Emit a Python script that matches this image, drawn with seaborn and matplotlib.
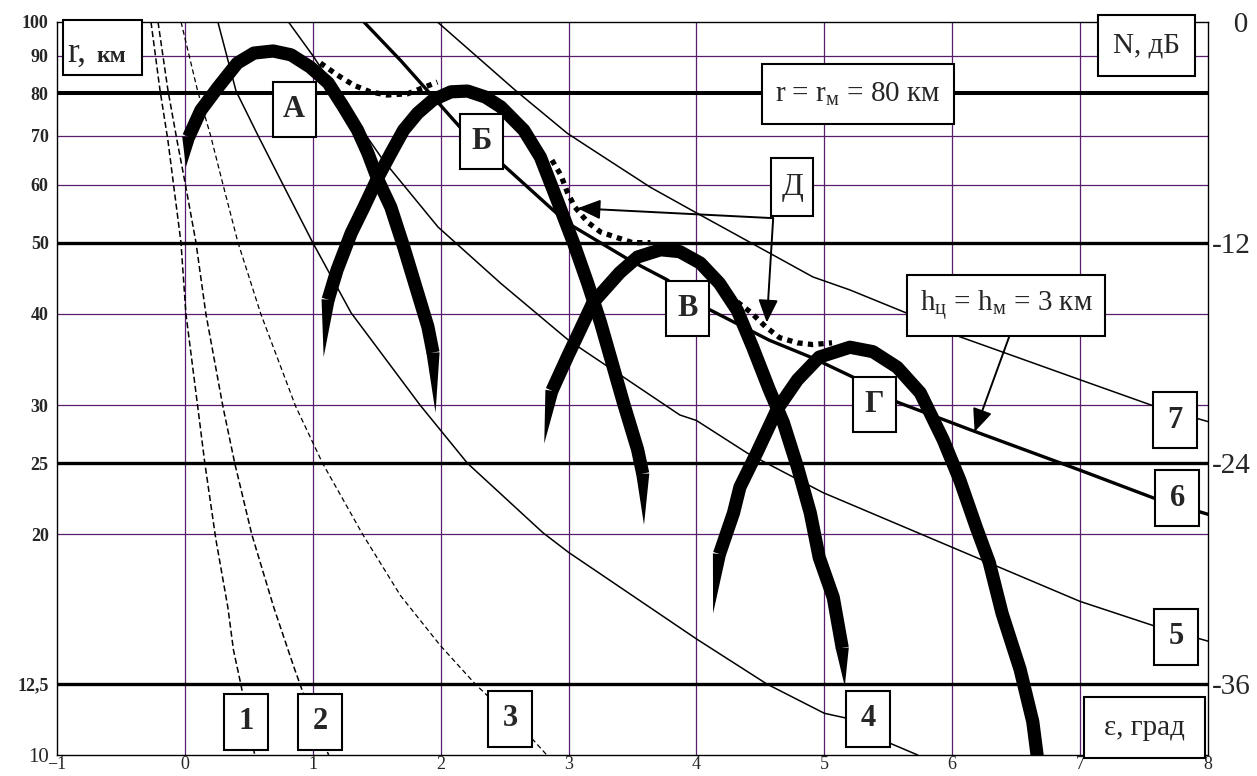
import numpy as np
import matplotlib
matplotlib.use("Agg")
import matplotlib.pyplot as plt
import seaborn as sns
from matplotlib.patches import Rectangle
from matplotlib.transforms import IdentityTransform

# ---------------- data (ε in degrees, r in km) ----------------
c1_eps = [-0.265, -0.195, -0.133, -0.086, -0.031, 0.008, 0.10, 0.156, 0.242, 0.336, 0.38, 0.437, 0.546]
c1_r = [100, 80.8, 69.0, 59.5, 50.1, 40.0, 29.9, 25.0, 19.7, 15.9, 13.9, 12.5, 10.0]

c2_eps = [-0.21, -0.133, -0.062, 0.008, 0.086, 0.164, 0.297, 0.39, 0.523, 0.695, 0.851, 0.921, 1.124]
c2_r = [100, 80.8, 69.0, 59.5, 50.1, 40.0, 29.9, 25.0, 20.0, 15.9, 13.2, 12.2, 10.0]

c3_eps = [-0.03, 0.10, 0.20, 0.297, 0.414, 0.593, 0.866, 1.077, 1.39, 1.686, 1.998, 2.27, 2.72, 2.83]
c3_r = [100, 80.5, 70.1, 60.1, 50.1, 40.0, 29.9, 25.0, 20.0, 16.5, 14.1, 12.5, 10.5, 10.0]

c4_eps = [0.258, 0.40, 0.57, 0.765, 1.0, 1.30, 1.84, 2.21, 2.80, 3.0, 4.0, 4.55, 5.0, 5.2, 5.5, 5.73]
c4_r = [100, 80.5, 70.1, 60.1, 50.0, 40.1, 30.0, 25.0, 20.1, 18.9, 14.4, 12.5, 11.4, 11.2, 10.4, 10.0]

c5_eps = [0.81, 1.0, 1.35, 1.55, 1.98, 2.47, 3.0, 3.87, 4.0, 4.40, 4.99, 6.0, 7.0, 7.58, 8.0]
c5_r = [100, 90.0, 72.8, 64.8, 52.5, 44.0, 36.8, 29.1, 28.6, 25.8, 22.8, 19.2, 16.2, 15.0, 14.3]

c6_eps = [1.40, 1.69, 2.15, 2.49, 2.99, 3.48, 3.77, 4.08, 4.57, 4.91, 5.22, 5.57, 6.16, 6.99, 7.58, 8.0]
c6_r = [100, 88.5, 71.9, 63.8, 53.2, 47.3, 44.5, 40.7, 36.8, 34.8, 32.8, 30.3, 27.7, 24.5, 22.4, 21.3]

c7_eps = [1.975, 2.58, 2.99, 3.19, 3.64, 4.0, 4.29, 4.91, 5.2, 5.64, 6.06, 7.0, 7.56, 8.0]
c7_r = [100, 80.8, 70.5, 66.9, 59.5, 54.9, 51.5, 44.9, 43.1, 40.1, 37.2, 32.5, 30.0, 28.5]

# antenna lobes А, Б, В, Г (first / last points are the tapered tips)
lobeA_eps = [0.008, 0.03, 0.125, 0.26, 0.41, 0.54, 0.69, 0.83, 0.98, 1.12, 1.24, 1.35, 1.43, 1.51, 1.61, 1.71, 1.82, 1.90, 1.94, 1.96]
lobeA_r = [63.4, 69.7, 75.8, 81.5, 87.9, 90.7, 91.3, 90.2, 86.8, 82.6, 76.6, 71.2, 66.3, 60.9, 55.9, 49.4, 42.7, 38.4, 35.4, 29.3]

lobeB_eps = [1.085, 1.12, 1.19, 1.30, 1.40, 1.51, 1.61, 1.71, 1.82, 1.94, 2.08, 2.21, 2.35, 2.47, 2.65, 2.78, 2.91, 3.04, 3.15, 3.25, 3.35, 3.43, 3.54, 3.58, 3.59]
lobeB_r = [34.9, 41.8, 45.9, 51.5, 55.9, 61.4, 66.2, 71.2, 75.1, 78.3, 80.3, 80.5, 79.0, 76.6, 71.2, 65.4, 57.2, 49.9, 44.0, 38.9, 33.8, 30.2, 26.1, 24.2, 20.6]

lobeV_eps = [2.81, 2.87, 2.99, 3.09, 3.19, 3.30, 3.40, 3.54, 3.72, 3.87, 4.03, 4.18, 4.32, 4.44, 4.57, 4.68, 4.79, 4.89, 4.96, 5.07, 5.14, 5.16]
lobeV_r = [26.6, 31.4, 34.9, 38.0, 41.4, 43.5, 45.5, 47.8, 48.9, 48.6, 46.9, 44.0, 40.4, 36.0, 31.5, 28.4, 24.7, 21.4, 18.6, 16.4, 14.0, 12.4]

lobeG_eps = [4.13, 4.18, 4.29, 4.34, 4.47, 4.63, 4.79, 4.96, 5.20, 5.38, 5.57, 5.75, 5.93, 6.06, 6.19, 6.29, 6.39, 6.53, 6.63, 6.68]
lobeG_r = [15.6, 18.8, 21.4, 23.2, 25.8, 29.6, 32.5, 34.9, 36.0, 35.5, 33.8, 31.2, 26.9, 23.7, 20.4, 18.3, 15.6, 13.1, 11.1, 9.5]

# dotted envelope segments Д
d1_eps = [1.06, 1.19, 1.32, 1.45, 1.58, 1.74, 1.975]
d1_r = [87.9, 84.7, 82.0, 80.3, 79.5, 79.8, 82.8]
d2_eps = [2.87, 2.94, 2.99, 3.05, 3.15, 3.25, 3.38, 3.50, 3.64]
d2_r = [64.8, 61.8, 58.6, 55.9, 53.3, 51.7, 50.8, 50.0, 50.0]
d3_eps = [4.32, 4.43, 4.54, 4.65, 4.79, 4.91, 5.06]
d3_r = [41.5, 40.1, 38.4, 37.1, 36.5, 36.3, 36.5]

# axes / grid
x_ticks = [-1, 0, 1, 2, 3, 4, 5, 6, 7, 8]
x_labels = ["\u22121", "0", "1", "2", "3", "4", "5", "6", "7", "8"]
x_grid = [0, 1, 2, 3, 4, 5, 6, 7]
r_grid_thin = [90, 70, 60, 40, 30, 20]
r_grid_bold = [80, 50, 25, 12.5]
left_ticks = [100, 90, 80, 70, 60, 50, 40, 30, 25, 20, 12.5, 10]
left_labels = ["100", "90", "80", "70", "60", "50", "40", "30", "25", "20", "12,5", "10"]
right_ticks = [100, 50, 25, 12.5]
right_labels = ["   0", "-12", "-24", "-36"]

# ---------------- style ----------------
sns.set_theme(style="white")
plt.rcParams["font.family"] = ["Liberation Serif", "DejaVu Serif"]
plt.rcParams["mathtext.fontset"] = "custom"
plt.rcParams["mathtext.rm"] = "Liberation Serif"

PURPLE = "#5a1d6b"
fig = plt.figure(figsize=(12.57, 7.76), dpi=100)
ax = fig.add_axes([57 / 1257, 1 - 755 / 776, 1151 / 1257, 733 / 776])
ax.set_yscale("log")
ax.set_xlim(-1, 8)
ax.set_ylim(10, 100)

for xv in x_grid:
    ax.axvline(xv, color=PURPLE, lw=0.9, zorder=1)
for rv in r_grid_thin:
    ax.axhline(rv, color=PURPLE, lw=0.9, zorder=1)
for rv in r_grid_bold:
    ax.axhline(rv, color="black", lw=2.9 if rv == 80 else 2.4, zorder=2)

# thin curves
for e, r, lw, ls in [
    (c1_eps, c1_r, 1.1, (0, (4, 2))),
    (c2_eps, c2_r, 1.1, (0, (4, 2))),
    (c3_eps, c3_r, 0.9, (0, (4, 2.5))),
    (c4_eps, c4_r, 1.1, "-"),
    (c5_eps, c5_r, 1.1, "-"),
    (c7_eps, c7_r, 1.1, "-"),
    (c6_eps, c6_r, 2.4, "-"),
]:
    sns.lineplot(x=e, y=r, ax=ax, sort=False, estimator=None, color="black",
                 lw=lw, linestyle=ls, zorder=3)

# dotted Д curves
for e, r in [(d1_eps, d1_r), (d2_eps, d2_r), (d3_eps, d3_r)]:
    sns.lineplot(x=e, y=r, ax=ax, sort=False, estimator=None, color="black",
                 lw=3.8, linestyle=(0, (1.0, 1.0)), dash_capstyle="butt", zorder=4)

LOBE_LW = 9.5
lobes = [(lobeA_eps, lobeA_r, True, True), (lobeB_eps, lobeB_r, True, True),
         (lobeV_eps, lobeV_r, True, True), (lobeG_eps, lobeG_r, True, False)]
for e, r, t0, t1 in lobes:
    i0 = 1 if t0 else 0
    i1 = len(e) - 1 if t1 else len(e)
    sns.lineplot(x=e[i0:i1], y=r[i0:i1], ax=ax, sort=False, estimator=None,
                 color="black", lw=LOBE_LW, solid_joinstyle="round",
                 solid_capstyle="butt", zorder=4)

ax.tick_params(length=0)
ax.minorticks_off()
ax.set_xticks(x_ticks)
ax.set_xticklabels(x_labels, fontsize=13)
ax.tick_params(axis="x", pad=0.5)
ax.set_yticks(left_ticks)
ax.set_yticklabels(left_labels, fontsize=13, fontweight="bold")
ax.tick_params(axis="y", pad=6)
for lbl in ax.get_yticklabels():
    if lbl.get_text() == "10":
        lbl.set_fontweight("normal")
        lbl.set_fontsize(15)
for s in ax.spines.values():
    s.set_color("black")
    s.set_linewidth(1.0)
    s.set_visible(True)
ax.set_xlabel("")
ax.set_ylabel("")

tw = ax.twinx()
tw.set_yscale("log")
tw.set_ylim(10, 100)
tw.minorticks_off()
tw.set_yticks(right_ticks)
tw.set_yticklabels(right_labels, fontsize=21)
tw.tick_params(length=0, pad=3)
for s in tw.spines.values():
    s.set_visible(False)

# tapered tips of the lobes
h = LOBE_LW * fig.dpi / 72 / 2
for e, r, t0, t1 in lobes:
    ends = []
    if t0:
        ends.append(((e[0], r[0]), (e[1], r[1])))
    if t1:
        ends.append(((e[-1], r[-1]), (e[-2], r[-2])))
    for tip, base in ends:
        p0 = ax.transData.transform(tip)
        p1 = ax.transData.transform(base)
        d = p0 - p1
        d = d / np.hypot(*d)
        n = np.array([-d[1], d[0]])
        poly = np.array([p1 + n * h, p1 - n * h, p0])
        pd_ = ax.transData.inverted().transform(poly)
        ax.fill(pd_[:, 0], pd_[:, 1], color="black", lw=0, zorder=4)

# arrows
for start, tip in [((4.60, 54.0), (3.07, 55.7)), ((4.60, 54.0), (4.55, 38.9)),
                   ((6.45, 37.4), (6.175, 27.6))]:
    ax.annotate("", xy=tip, xytext=start,
                arrowprops=dict(arrowstyle="-|>,head_length=0.7,head_width=0.3",
                                color="black", lw=1.4, shrinkA=0, shrinkB=0,
                                mutation_scale=20), zorder=7)

# label boxes (figure level, drawn on top)
def box(x, r, w, hgt, text=None, fs=22, weight="bold"):
    cx, cy = ax.transData.transform((x, r))
    rect = Rectangle((cx - w / 2, cy - hgt / 2), w, hgt, transform=IdentityTransform(),
                     facecolor="white", edgecolor="black", lw=1.5, zorder=10)
    fig.add_artist(rect)
    if text is not None:
        fig.text(cx, cy, text, transform=IdentityTransform(), ha="center", va="center",
                 fontsize=fs, fontweight=weight, zorder=11)
    return cx, cy

for t, x, r in [("А", 0.855, 75.9), ("Б", 2.32, 68.6), ("В", 3.93, 40.7), ("Г", 5.39, 30.1)]:
    box(x, r, 43, 55, t, 22, "bold")
box(4.75, 59.5, 42, 58, "Д", 23, "normal")
for t, x, r in [("1", 0.476, 11.1), ("2", 1.06, 11.1), ("3", 2.545, 11.2), ("4", 5.34, 11.2),
                ("5", 7.75, 14.5), ("6", 7.76, 22.4), ("7", 7.74, 28.6)]:
    box(x, r, 44, 56, t, 22, "bold")
box(5.26, 79.8, 192, 60, r"r = r$_\mathregular{м}$ = 80 км", 21, "normal")
box(7.52, 92.9, 97, 61, "N, дБ", 21, "normal")
box(6.42, 41.0, 198, 61, r"h$_\mathregular{ц}$ = h$_\mathregular{м}$ = 3 км", 21, "normal")
box(7.50, 10.9, 121, 61, "ε, град", 21, "normal")
cx, cy = box(-0.648, 92.4, 79, 55)
fig.text(cx - 35, cy - 15, "r,", transform=IdentityTransform(), ha="left", va="baseline",
         fontsize=25, zorder=11)
fig.text(cx - 6, cy - 15, "км", transform=IdentityTransform(), ha="left", va="baseline",
         fontsize=17, fontweight="bold", zorder=11)

fig.savefig("out.png", dpi=100, facecolor="white")
